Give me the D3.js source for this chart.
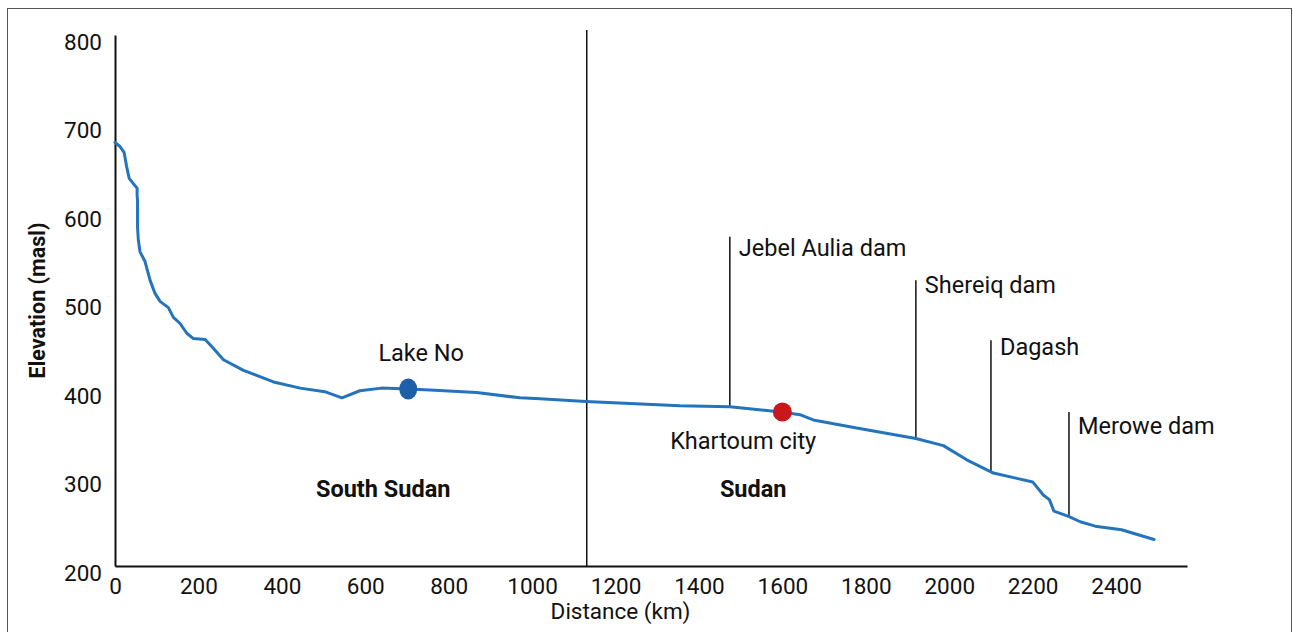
<!DOCTYPE html>
<html>
<head>
<meta charset="utf-8">
<script src="https://cdn.jsdelivr.net/npm/d3@7"></script>
<style>
  html, body { margin: 0; padding: 0; background: #fff; }
  svg { display: block; font-family: Roboto, "Open Sans", sans-serif; }
</style>
</head>
<body>
<svg id="chart" width="1293" height="632"></svg>
<script>
// ---- data ----
const distanceKm = [0, 12, 22, 28, 34, 44, 53, 53, 54, 54, 56, 60, 72, 84, 96, 108, 128, 140, 156, 172, 188, 216, 232, 260, 308, 380, 444, 503, 544, 587, 639, 703, 755, 867, 971, 1019, 1129, 1354, 1474, 1598, 1642, 1674, 1778, 1920, 1986, 2042, 2106, 2162, 2200, 2226, 2240, 2251, 2286, 2314, 2350, 2413, 2441, 2491];
const elevation  = [678.5, 674, 667, 651, 638, 632, 627, 619, 613, 583, 568, 555, 544, 523, 508, 499, 492, 481, 474, 463, 457, 456, 448, 433, 421, 408, 401, 397, 390, 398, 401, 400, 399, 396, 390, 389, 386, 381, 380, 374, 371, 365, 356, 344, 336, 320, 305, 299, 295, 280, 275, 262, 256, 250, 245, 241, 237, 230];

const xTicks = [0, 200, 400, 600, 800, 1000, 1200, 1400, 1600, 1800, 2000, 2200, 2400];
const yTicks = [200, 300, 400, 500, 600, 700, 800];

const borderKm = 1131;
const countryNames = ["South Sudan", "Sudan"];
const countryKm = [643, 1530];
const countryElev = [287, 287];

const pointNames = ["Lake No", "Khartoum city"];
const pointKm = [703, 1600];
const pointElev = [400, 374];
const pointLabelKm = [734, 1506];
const pointLabelElev = [441, 342];

const damNames = ["Jebel Aulia dam", "Shereiq dam", "Dagash", "Merowe dam"];
const damKm = [1474, 1920, 2100, 2287];
const damBaseElev = [380.5, 344.5, 306, 256.5];
const damTopElev = [572, 523, 455, 374];
const damLabelElev = [560, 517.5, 447.5, 358];

// ---- chart ----
const svg = d3.select("#chart");
const x = d3.scaleLinear().domain([0, 2570]).range([115, 1187]);
const y = d3.scaleLinear().domain([200, 800]).range([566, 35]);
const ink = "#111";
const tickFont = 22.5;
const labelFont = 23.5;

// frame
svg.append("rect").attr("x", 7.5).attr("y", 8.5).attr("width", 1284).attr("height", 700)
  .attr("fill", "none").attr("stroke", "#555").attr("stroke-width", 1);

// axes
const gx = svg.append("g").attr("transform", `translate(0,${y(200)})`)
  .call(d3.axisBottom(x).tickValues(xTicks).tickFormat(d3.format("d"))
    .tickSize(0).tickSizeOuter(0).tickPadding(12));
const gy = svg.append("g").attr("transform", `translate(${x(0)},0)`)
  .call(d3.axisLeft(y).tickValues(yTicks).tickFormat(d3.format("d"))
    .tickSize(0).tickSizeOuter(0).tickPadding(13));
[gx, gy].forEach(g => {
  g.select(".domain").attr("stroke", ink).attr("stroke-width", 2);
  g.selectAll("text").attr("fill", ink).style("font-size", tickFont + "px")
    .style("font-family", "Roboto, sans-serif");
});
gy.selectAll("text").attr("dy", "0.63em");

// axis titles
svg.append("text").attr("x", x(1200) + 5).attr("y", 619)
  .attr("text-anchor", "middle").attr("fill", ink).style("font-size", tickFont + "px")
  .text("Distance (km)");
svg.append("text").attr("transform", `translate(45,${(y.range()[0] + y.range()[1]) / 2})rotate(-90)`)
  .attr("text-anchor", "middle").attr("fill", ink).style("font-size", "21.5px")
  .style("font-weight", "bold").text("Elevation (masl)");

// border divider
svg.append("line").attr("x1", x(borderKm)).attr("x2", x(borderKm))
  .attr("y1", y.range()[1] - 5).attr("y2", y(200))
  .attr("stroke", ink).attr("stroke-width", 1.5);

// country labels
svg.selectAll(".country").data(countryNames).join("text")
  .attr("x", (d, i) => x(countryKm[i])).attr("y", (d, i) => y(countryElev[i]))
  .attr("dy", "0.35em").attr("text-anchor", "middle").attr("fill", ink)
  .style("font-size", labelFont + "px").style("font-weight", "bold").text(d => d);

// dam markers
svg.selectAll(".dam").data(damNames).join("line")
  .attr("x1", (d, i) => x(damKm[i])).attr("x2", (d, i) => x(damKm[i]))
  .attr("y1", (d, i) => y(damTopElev[i])).attr("y2", (d, i) => y(damBaseElev[i]))
  .attr("stroke", ink).attr("stroke-width", 1.5);
svg.selectAll(".damlabel").data(damNames).join("text")
  .attr("x", (d, i) => x(damKm[i]) + 9).attr("y", (d, i) => y(damLabelElev[i]))
  .attr("dy", "0.35em").attr("fill", ink).style("font-size", labelFont + "px").text(d => d);

// elevation profile
const pts = distanceKm.map((d, i) => [d, elevation[i]]);
svg.append("path").datum(pts)
  .attr("d", d3.line().x(d => x(d[0])).y(d => y(d[1])))
  .attr("fill", "none").attr("stroke", "#2474bd").attr("stroke-width", 3)
  .attr("stroke-linejoin", "round").attr("stroke-linecap", "round");

// points
const pointColors = ["#1d5fa9", "#c8171d"];
svg.selectAll(".pt").data(pointNames).join("ellipse")
  .attr("cx", (d, i) => x(pointKm[i])).attr("cy", (d, i) => y(pointElev[i]))
  .attr("rx", (d, i) => i === 0 ? 9 : 9.5).attr("ry", (d, i) => i === 0 ? 10.5 : 9.5)
  .attr("fill", (d, i) => pointColors[i]);
svg.selectAll(".ptlabel").data(pointNames).join("text")
  .attr("x", (d, i) => x(pointLabelKm[i])).attr("y", (d, i) => y(pointLabelElev[i]))
  .attr("dy", "0.35em").attr("text-anchor", "middle").attr("fill", ink)
  .style("font-size", labelFont + "px").text(d => d);
</script>
</body>
</html>
